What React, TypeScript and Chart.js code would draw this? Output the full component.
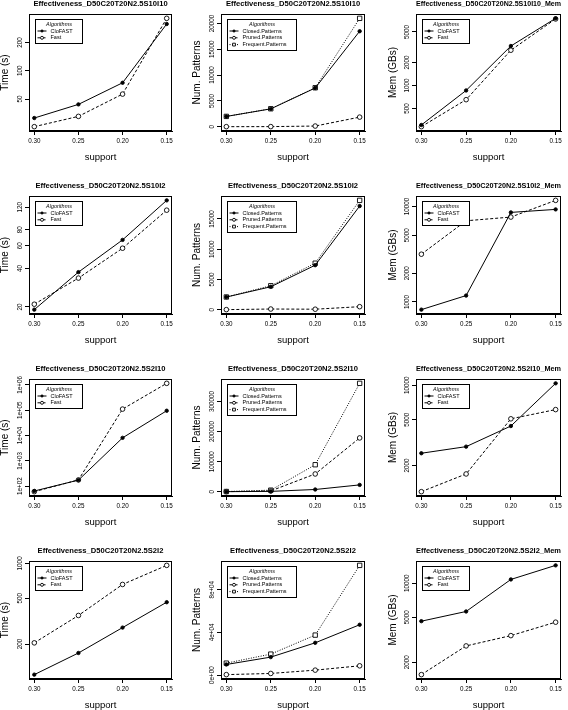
import React, { useEffect, useRef } from "react";
import { Chart, registerables } from "chart.js";

Chart.register(...registerables);

const FONT = '"Liberation Sans", Arial, Helvetica, sans-serif';

// ---------- data ----------
const support = [0.3, 0.25, 0.2, 0.15];
const supportLabels = ["0.30", "0.25", "0.20", "0.15"];

// Row 1: S10I10
const s10i10TimeCloFAST = [31.4, 43.9, 74.6, 316];
const s10i10TimeFast = [25.4, 32.7, 56.5, 363];
const s10i10Closed = [1990, 3460, 7500, 18500];
const s10i10Pruned = [10, 20, 130, 1860];
const s10i10Frequent = [2000, 3480, 7550, 21000];
const s10i10MemCloFAST = [305, 862, 3280, 7540];
const s10i10MemFast = [290, 653, 2890, 7400];

// Row 2: S10I2
const s10i2TimeCloFAST = [19.05, 37.4, 66.8, 136];
const s10i2TimeFast = [21, 33.6, 57.5, 114];
const s10i2Closed = [2090, 3790, 7360, 17140];
const s10i2Pruned = [10, 110, 80, 495];
const s10i2Frequent = [2100, 3960, 7690, 18080];
const s10i2MemCloFAST = [831, 1166, 8650, 9300];
const s10i2MemFast = [3160, 7070, 7730, 11560];

// Row 3: S2I10
const s2i10TimeCloFAST = [63.7, 172, 8090, 95500];
const s2i10TimeFast = [60, 175, 111000, 1160000];
const s2i10Closed = [500, 1500, 7700, 23000];
const s2i10Pruned = [500, 3000, 59300, 179000];
const s2i10Frequent = [1000, 5500, 90000, 360400];
const s2i10MemCloFAST = [2553, 2915, 4410, 10400];
const s2i10MemFast = [1180, 1684, 5100, 6136];

// Row 4: S2I2
const s2i2TimeCloFAST = [108.8, 167.5, 278, 461];
const s2i2TimeFast = [205, 354, 657, 961];
const s2i2Closed = [10000, 16900, 30300, 47200];
const s2i2Pruned = [500, 1600, 4700, 8750];
const s2i2Frequent = [11250, 19700, 37500, 102800];
const s2i2MemCloFAST = [4614, 5620, 10780, 14350];
const s2i2MemFast = [1556, 2790, 3440, 4520];

// ---------- tick labels ----------
const ticksTime1 = [50, 100, 200];
const ticksPat1 = [0, 5000, 10000, 15000, 20000];
const ticksMem1 = [500, 1000, 2000, 5000];
const ticksTime2 = [20, 40, 60, 80, 120];
const ticksPat2 = [0, 5000, 10000, 15000];
const ticksMem2 = [1000, 2000, 5000, 10000];
const ticksTime3 = [100, 1000, 10000, 100000, 1000000];
const ticksTime3Labels = ["1e+02", "1e+03", "1e+04", "1e+05", "1e+06"];
const ticksPat3 = [0, 100000, 200000, 300000];
const ticksMem3 = [2000, 5000, 10000];
const ticksTime4 = [200, 500, 1000];
const ticksPat4 = [0, 40000, 80000];
const ticksPat4Labels = ["0e+00", "4e+04", "8e+04"];
const ticksMem4 = [2000, 5000, 10000];

const titleBase = "Effectiveness_D50C20T20N2.5";

// ---------- styles ----------
const seriesStyle: Record<string, { dash: number[]; point: string; filled: boolean }> = {
  CloFAST: { dash: [], point: "circle", filled: true },
  Fast: { dash: [3, 2], point: "circle", filled: false },
  "Closed.Patterns": { dash: [], point: "circle", filled: true },
  "Pruned.Patterns": { dash: [3, 2], point: "circle", filled: false },
  "Frequent.Patterns": { dash: [1, 1.5], point: "rect", filled: false },
};

type Series = { label: string; values: number[] };
type PanelCfg = {
  title: string;
  yTitle: string;
  log: boolean;
  ticks: number[];
  tickLabels?: string[];
  series: Series[];
};

const algo = (c: number[], f: number[]): Series[] => [
  { label: "CloFAST", values: c },
  { label: "Fast", values: f },
];
const pats = (c: number[], p: number[], f: number[]): Series[] => [
  { label: "Closed.Patterns", values: c },
  { label: "Pruned.Patterns", values: p },
  { label: "Frequent.Patterns", values: f },
];

const panels: PanelCfg[] = [
  { title: titleBase + "S10I10", yTitle: "Time (s)", log: true, ticks: ticksTime1, series: algo(s10i10TimeCloFAST, s10i10TimeFast) },
  { title: titleBase + "S10I10", yTitle: "Num. Patterns", log: false, ticks: ticksPat1, series: pats(s10i10Closed, s10i10Pruned, s10i10Frequent) },
  { title: titleBase + "S10I10_Mem", yTitle: "Mem (GBs)", log: true, ticks: ticksMem1, series: algo(s10i10MemCloFAST, s10i10MemFast) },
  { title: titleBase + "S10I2", yTitle: "Time (s)", log: true, ticks: ticksTime2, series: algo(s10i2TimeCloFAST, s10i2TimeFast) },
  { title: titleBase + "S10I2", yTitle: "Num. Patterns", log: false, ticks: ticksPat2, series: pats(s10i2Closed, s10i2Pruned, s10i2Frequent) },
  { title: titleBase + "S10I2_Mem", yTitle: "Mem (GBs)", log: true, ticks: ticksMem2, series: algo(s10i2MemCloFAST, s10i2MemFast) },
  { title: titleBase + "S2I10", yTitle: "Time (s)", log: true, ticks: ticksTime3, tickLabels: ticksTime3Labels, series: algo(s2i10TimeCloFAST, s2i10TimeFast) },
  { title: titleBase + "S2I10", yTitle: "Num. Patterns", log: false, ticks: ticksPat3, series: pats(s2i10Closed, s2i10Pruned, s2i10Frequent) },
  { title: titleBase + "S2I10_Mem", yTitle: "Mem (GBs)", log: true, ticks: ticksMem3, series: algo(s2i10MemCloFAST, s2i10MemFast) },
  { title: titleBase + "S2I2", yTitle: "Time (s)", log: true, ticks: ticksTime4, series: algo(s2i2TimeCloFAST, s2i2TimeFast) },
  { title: titleBase + "S2I2", yTitle: "Num. Patterns", log: false, ticks: ticksPat4, tickLabels: ticksPat4Labels, series: pats(s2i2Closed, s2i2Pruned, s2i2Frequent) },
  { title: titleBase + "S2I2_Mem", yTitle: "Mem (GBs)", log: true, ticks: ticksMem4, series: algo(s2i2MemCloFAST, s2i2MemFast) },
];

// layout of the grid (page pixels)
const rows = [
  { top: 0, B: 131 },
  { top: 182, B: 132 },
  { top: 365, B: 131 },
  { top: 547, B: 132 },
];
const cols = [
  { left: 0, width: 189, L: 29, R: 172, yTitleX: 5 },
  { left: 189, width: 189, L: 32, R: 176, yTitleX: 8 },
  { left: 378, width: 190, L: 38, R: 183, yTitleX: 15 },
];
const TOP = 14;
const XAXIS_H = 31;

// ---------- plugins ----------
const boxPlugin = {
  id: "rBox",
  afterDraw(chart: any) {
    const { ctx, chartArea: a } = chart;
    ctx.save();
    ctx.strokeStyle = "#000";
    ctx.lineWidth = 1;
    ctx.strokeRect(Math.round(a.left) + 0.5, Math.round(a.top) + 0.5, Math.round(a.right - a.left) - 1, Math.round(a.bottom - a.top) - 1);
    ctx.restore();
  },
};

const yLabelPlugin = {
  id: "rYLabels",
  afterDraw(chart: any) {
    const { ctx, chartArea: a } = chart;
    const scale = chart.scales.y;
    ctx.save();
    ctx.font = `6.3px ${FONT}`;
    ctx.fillStyle = "#000";
    ctx.textAlign = "center";
    ctx.textBaseline = "middle";
    scale.ticks.forEach((t: any) => {
      const y = scale.getPixelForValue(t.value);
      ctx.save();
      ctx.translate(a.left - 9, y);
      ctx.rotate(-Math.PI / 2);
      ctx.fillText(String(t.label), 0, 0);
      ctx.restore();
    });
    ctx.restore();
  },
};

function drawMarker(ctx: CanvasRenderingContext2D, style: string, filled: boolean, x: number, y: number, r: number) {
  ctx.save();
  ctx.setLineDash([]);
  ctx.lineWidth = 0.9;
  ctx.strokeStyle = "#000";
  ctx.fillStyle = filled ? "#000" : "#fff";
  ctx.beginPath();
  if (style === "rect") {
    ctx.rect(x - r, y - r, 2 * r, 2 * r);
  } else {
    ctx.arc(x, y, r, 0, Math.PI * 2);
  }
  ctx.fill();
  ctx.stroke();
  ctx.restore();
}

const legendPlugin = {
  id: "rLegend",
  afterDatasetsDraw(chart: any) {
    const { ctx, chartArea: a } = chart;
    const ds = chart.data.datasets;
    ctx.save();
    ctx.font = `5.5px ${FONT}`;
    const maxW = Math.max(...ds.map((d: any) => ctx.measureText(d.label).width));
    const x0 = Math.round(a.left + 6) + 0.5;
    const y0 = Math.round(a.top + 5) + 0.5;
    const w = Math.round(15 + maxW + 10);
    const h = Math.round(11.5 + (ds.length - 1) * 6.8 + 5.5);
    ctx.fillStyle = "#fff";
    ctx.fillRect(x0, y0, w, h);
    ctx.strokeStyle = "#000";
    ctx.lineWidth = 1;
    ctx.strokeRect(x0, y0, w, h);
    ctx.fillStyle = "#000";
    ctx.textBaseline = "middle";
    ctx.textAlign = "center";
    ctx.font = `italic 5.5px ${FONT}`;
    ctx.fillText("Algorithms", x0 + w / 2, y0 + 4.5);
    ctx.font = `5.5px ${FONT}`;
    ds.forEach((d: any, i: number) => {
      const y = y0 + 11.5 + i * 6.8;
      ctx.save();
      ctx.strokeStyle = "#000";
      ctx.lineWidth = 1;
      ctx.setLineDash(d.borderDash || []);
      ctx.beginPath();
      ctx.moveTo(x0 + 2, y);
      ctx.lineTo(x0 + 11, y);
      ctx.stroke();
      ctx.restore();
      const st = seriesStyle[d.label];
      drawMarker(ctx, st.point, st.filled, x0 + 6.5, y, st.point === "rect" ? 1.4 : st.filled ? 1.1 : 1.5);
      ctx.fillStyle = "#000";
      ctx.textAlign = "left";
      ctx.fillText(d.label, x0 + 15, y);
    });
    ctx.restore();
  },
};

// R-style axis range: extend data range by 4% on each side
function rRange(values: number[], log: boolean): [number, number] {
  const v = log ? values.map((x) => Math.log10(x)) : values;
  const lo = Math.min(...v);
  const hi = Math.max(...v);
  const d = (hi - lo) * 0.04;
  return log ? [Math.pow(10, lo - d), Math.pow(10, hi + d)] : [lo - d, hi + d];
}

function Panel({ cfg, row, col }: { cfg: PanelCfg; row: (typeof rows)[number]; col: (typeof cols)[number] }) {
  const ref = useRef<HTMLCanvasElement>(null);
  const H = row.B + XAXIS_H;
  useEffect(() => {
    const all = cfg.series.flatMap((s) => s.values);
    const [ymin, ymax] = rRange(all, cfg.log);
    const [xmin, xmax] = rRange(support, false);
    const labels = cfg.tickLabels || cfg.ticks.map((t) => String(t));
    const datasets = cfg.series.map((s) => {
      const st = seriesStyle[s.label];
      return {
        label: s.label,
        data: support.map((x, i) => ({ x, y: s.values[i] })),
        borderColor: "#000",
        borderWidth: 1,
        borderDash: st.dash,
        pointStyle: st.point,
        pointRadius: st.point === "rect" ? 3.1 : st.filled ? 1.7 : 2.3,
        pointBorderWidth: 0.9,
        pointBorderColor: "#000",
        pointBackgroundColor: st.filled ? "#000" : "#fff",
        tension: 0,
        fill: false,
      };
    });
    const chart = new Chart(ref.current as HTMLCanvasElement, {
      type: "line",
      data: { datasets: datasets as any },
      options: {
        animation: false,
        responsive: false,
        maintainAspectRatio: false,
        events: [],
        layout: { autoPadding: false, padding: { top: 0, left: 0, bottom: 0, right: col.width - col.R } },
        plugins: {
          legend: { display: false },
          tooltip: { enabled: false },
          title: {
            display: true,
            text: cfg.title,
            fullSize: false,
            color: "#000",
            font: { family: FONT, size: 7.6, weight: "bold", lineHeight: 1 },
            padding: { top: 0.25, bottom: TOP - 7.6 - 0.25 },
          },
        },
        scales: {
          x: {
            type: "linear",
            reverse: true,
            min: xmin,
            max: xmax,
            bounds: "data",
            afterBuildTicks: (s: any) => {
              s.ticks = support.map((v) => ({ value: v }));
            },
            afterFit: (s: any) => {
              s.height = XAXIS_H;
            },
            ticks: {
              autoSkip: false,
              maxRotation: 0,
              minRotation: 0,
              padding: 3.6,
              color: "#000",
              font: { family: FONT, size: 6.3, lineHeight: 1 },
              callback: (_v: any, i: number) => supportLabels[i],
            },
            grid: { drawOnChartArea: false, drawTicks: true, tickLength: 4, color: "#000", lineWidth: 1 },
            border: { display: true, color: "#000", width: 1 },
            title: {
              display: true,
              text: "support",
              color: "#000",
              font: { family: FONT, size: 9.5, lineHeight: 1 },
              padding: { top: 0, bottom: 0.25 },
            },
          },
          y: {
            type: cfg.log ? "logarithmic" : "linear",
            min: ymin,
            max: ymax,
            bounds: "data",
            afterBuildTicks: (s: any) => {
              s.ticks = cfg.ticks.map((v) => ({ value: v }));
            },
            afterFit: (s: any) => {
              s.width = col.L;
            },
            ticks: {
              display: false,
              autoSkip: false,
              callback: (_v: any, i: number) => labels[i],
            },
            grid: { drawOnChartArea: false, drawTicks: true, tickLength: 4, color: "#000", lineWidth: 1 },
            border: { display: true, color: "#000", width: 1 },
            title: {
              display: true,
              text: cfg.yTitle,
              color: "#000",
              font: { family: FONT, size: 10, lineHeight: 1 },
              padding: { top: col.yTitleX - 5, bottom: 0 },
            },
          },
        },
      } as any,
      plugins: [boxPlugin, yLabelPlugin, legendPlugin],
    });
    return () => chart.destroy();
  }, []);
  return (
    <canvas
      ref={ref}
      width={col.width}
      height={H}
      style={{ position: "absolute", left: col.left, top: row.top, width: col.width, height: H, display: "block" }}
    />
  );
}

export default function App() {
  return (
    <div style={{ position: "absolute", left: 0, top: 0, width: 568, height: 710, background: "#fff", overflow: "hidden" }}>
      {panels.map((p, i) => (
        <Panel key={i} cfg={p} row={rows[Math.floor(i / 3)]} col={cols[i % 3]} />
      ))}
    </div>
  );
}
